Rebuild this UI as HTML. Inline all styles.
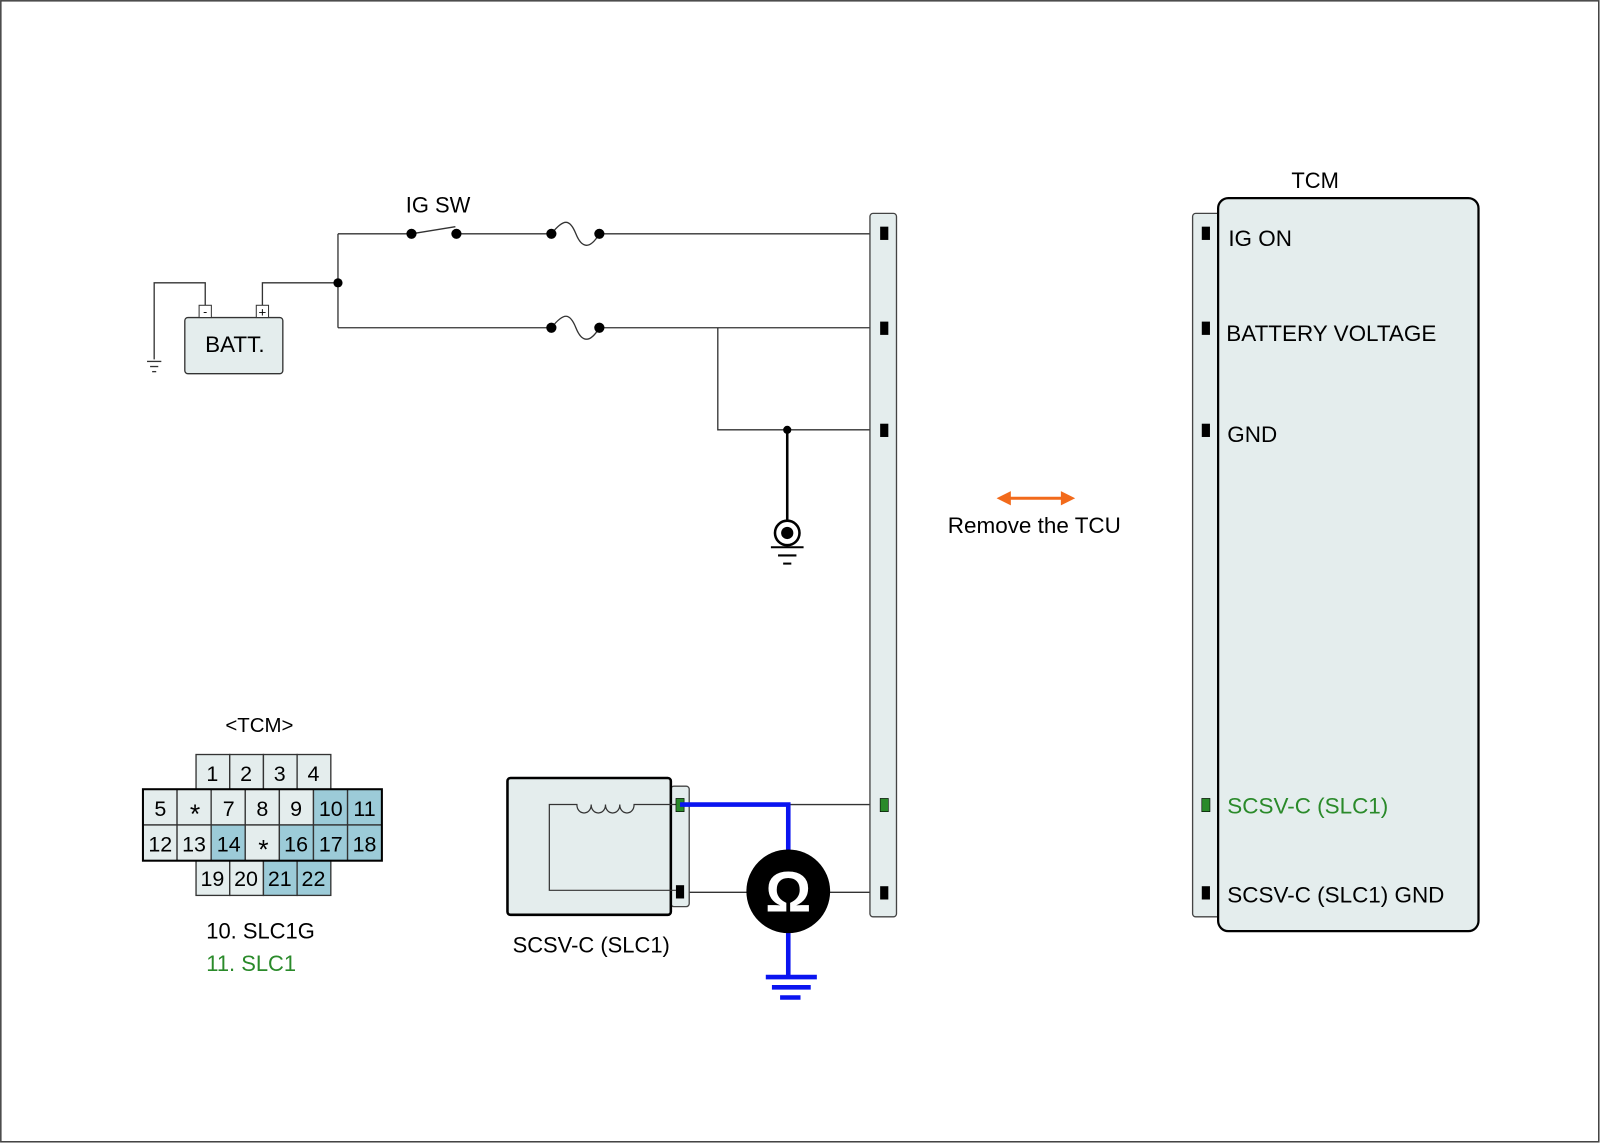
<!DOCTYPE html>
<html><head><meta charset="utf-8"><style>
html,body{margin:0;padding:0;background:#fff;}
svg{display:block;}
text{font-family:"Liberation Sans",Arial,sans-serif;}
</style></head><body>
<svg width="1600" height="1143" viewBox="0 0 1567 1119.5" preserveAspectRatio="none" xmlns="http://www.w3.org/2000/svg">
<rect x="0.8" y="0.8" width="1565" height="1117.5" fill="#fff" stroke="#444" stroke-width="1.5"/>
<g stroke="#333" stroke-width="1.3" fill="none">
<polyline points="201,299 201,277 151,277 151,352"/>
<polyline points="257,299 257,277 331,277"/>
<line x1="331" y1="229" x2="331" y2="321"/>
<line x1="331" y1="229" x2="403" y2="229"/>
<line x1="403" y1="229" x2="446" y2="222"/>
<line x1="447" y1="229" x2="540" y2="229"/>
<path d="M540,229 C552,214 558,214 564,229 C570,244 578,244 587,229"/>
<line x1="587" y1="229" x2="864" y2="229"/>
<line x1="331" y1="321" x2="540" y2="321"/>
<path d="M540,321 C552,306 558,306 564,321 C570,336 578,336 587,321"/>
<line x1="587" y1="321" x2="864" y2="321"/>
<polyline points="703,321 703,421 864,421"/>
<line x1="772" y1="788" x2="864" y2="788"/>
<line x1="675" y1="874" x2="735" y2="874"/>
<line x1="810" y1="874" x2="864" y2="874"/>
</g>
<g stroke="#333" stroke-width="1.3">
<line x1="144" y1="354" x2="158" y2="354"/><line x1="147" y1="359" x2="155" y2="359"/><line x1="149" y1="364" x2="153" y2="364"/>
</g>
<circle cx="331" cy="277" r="4.5" fill="#000"/>
<circle cx="403" cy="229" r="5" fill="#000"/><circle cx="447" cy="229" r="5" fill="#000"/>
<circle cx="540" cy="229" r="5" fill="#000"/><circle cx="587" cy="229" r="5" fill="#000"/>
<circle cx="540" cy="321" r="5" fill="#000"/><circle cx="587" cy="321" r="5" fill="#000"/>
<text x="429" y="208" font-size="21.5" text-anchor="middle">IG SW</text>
<rect x="181" y="311" width="96" height="55" rx="3" fill="#e4eded" stroke="#333" stroke-width="1.3"/>
<rect x="195" y="299" width="12" height="12" fill="#fff" stroke="#333" stroke-width="1"/>
<rect x="251" y="299" width="12" height="12" fill="#fff" stroke="#333" stroke-width="1"/>
<text x="201" y="309" font-size="12" text-anchor="middle">-</text>
<text x="257" y="310" font-size="13" text-anchor="middle">+</text>
<text x="230" y="345" font-size="22" text-anchor="middle">BATT.</text>
<circle cx="771" cy="421" r="4" fill="#000"/>
<line x1="771" y1="421" x2="771" y2="510" stroke="#000" stroke-width="2.5"/>
<circle cx="771" cy="522" r="12" fill="#fff" stroke="#000" stroke-width="2.5"/>
<circle cx="771" cy="522" r="6" fill="#000"/>
<g stroke="#000" stroke-width="2"><line x1="755" y1="536" x2="787" y2="536"/><line x1="762" y1="544" x2="780" y2="544"/><line x1="767" y1="552" x2="775" y2="552"/></g>
<rect x="852" y="209" width="26" height="689" rx="3" fill="#e4eded" stroke="#444" stroke-width="1.3"/>
<g fill="#000"><rect x="862" y="222" width="8" height="13"/><rect x="862" y="315" width="8" height="13"/><rect x="862" y="415" width="8" height="13"/><rect x="862" y="868" width="8" height="13"/></g>
<rect x="862" y="782" width="8" height="13" fill="#2a8a2a" stroke="#000" stroke-width="0.6"/>
<rect x="657" y="770" width="18" height="118" rx="3" fill="#e4eded" stroke="#444" stroke-width="1.3"/>
<rect x="497" y="762" width="160" height="134" rx="3" fill="#e4eded" stroke="#000" stroke-width="2.5"/>
<path d="M662,788 L621,788 C621,799 607,799 607,788 C607,799 593,799 593,788 C593,799 579,799 579,788 C579,799 565,799 565,788 L538,788 L538,872 L662,872" fill="none" stroke="#333" stroke-width="1.2"/>
<rect x="662" y="782" width="8" height="13" fill="#2a8a2a" stroke="#000" stroke-width="0.6"/>
<rect x="662" y="867" width="8" height="13" fill="#000"/>
<text x="502" y="933" font-size="21.5">SCSV-C (SLC1)</text>
<g stroke="#0a14f0" stroke-width="4.5" fill="none">
<polyline points="666,788 772,788 772,845"/>
<line x1="772" y1="905" x2="772" y2="957"/>
<line x1="750" y1="957" x2="800" y2="957"/><line x1="756" y1="967" x2="794" y2="967"/><line x1="764" y1="977" x2="784" y2="977"/>
</g>
<circle cx="772" cy="873" r="41" fill="#000"/>
<text x="772" y="893" font-size="56" font-weight="bold" fill="#fff" text-anchor="middle" style='font-family:"Liberation Sans",sans-serif'>Ω</text>
<line x1="986" y1="488" x2="1042" y2="488" stroke="#f26a1b" stroke-width="3"/>
<polygon points="976,488 990,481 990,495" fill="#f26a1b"/>
<polygon points="1053,488 1039,481 1039,495" fill="#f26a1b"/>
<text x="1013" y="522" font-size="22" text-anchor="middle">Remove the TCU</text>
<text x="1288" y="184" font-size="21.5" text-anchor="middle">TCM</text>
<rect x="1168" y="209" width="30" height="689" rx="3" fill="#e4eded" stroke="#444" stroke-width="1.3"/>
<rect x="1193" y="194" width="255" height="718" rx="10" fill="#e4eded" stroke="#000" stroke-width="2.2"/>
<g fill="#000"><rect x="1177" y="222" width="8" height="13"/><rect x="1177" y="315" width="8" height="13"/><rect x="1177" y="415" width="8" height="13"/><rect x="1177" y="868" width="8" height="13"/></g>
<rect x="1177" y="782" width="8" height="13" fill="#2a8a2a" stroke="#000" stroke-width="0.6"/>
<g font-size="22"><text x="1203" y="241">IG ON</text><text x="1201" y="334">BATTERY VOLTAGE</text><text x="1202" y="433">GND</text>
<text x="1202" y="797" fill="#2a8a2a">SCSV-C (SLC1)</text><text x="1202" y="884">SCSV-C (SLC1) GND</text></g>
<text x="254" y="717" font-size="20" text-anchor="middle">&lt;TCM&gt;</text>
<g stroke="#333" stroke-width="1.3">
<rect x="192" y="739" width="33" height="34" fill="#e4eded"/><rect x="225" y="739" width="33" height="34" fill="#e4eded"/><rect x="258" y="739" width="33" height="34" fill="#e4eded"/><rect x="291" y="739" width="33" height="34" fill="#e4eded"/>
<rect x="140" y="773" width="33.4" height="35" fill="#e4eded"/><rect x="173.4" y="773" width="33.4" height="35" fill="#e4eded"/><rect x="206.8" y="773" width="33.4" height="35" fill="#e4eded"/><rect x="240.2" y="773" width="33.4" height="35" fill="#e4eded"/><rect x="273.6" y="773" width="33.4" height="35" fill="#e4eded"/><rect x="307" y="773" width="33.4" height="35" fill="#9ccbd8"/><rect x="340.4" y="773" width="33.6" height="35" fill="#9ccbd8"/>
<rect x="140" y="808" width="33.4" height="35" fill="#e4eded"/><rect x="173.4" y="808" width="33.4" height="35" fill="#e4eded"/><rect x="206.8" y="808" width="33.4" height="35" fill="#9ccbd8"/><rect x="240.2" y="808" width="33.4" height="35" fill="#e4eded"/><rect x="273.6" y="808" width="33.4" height="35" fill="#9ccbd8"/><rect x="307" y="808" width="33.4" height="35" fill="#9ccbd8"/><rect x="340.4" y="808" width="33.6" height="35" fill="#9ccbd8"/>
<rect x="192" y="843" width="33" height="34" fill="#e4eded"/><rect x="225" y="843" width="33" height="34" fill="#e4eded"/><rect x="258" y="843" width="33" height="34" fill="#9ccbd8"/><rect x="291" y="843" width="33" height="34" fill="#9ccbd8"/>
</g>
<rect x="140" y="773" width="234" height="70" fill="none" stroke="#000" stroke-width="2"/>
<g font-size="21" text-anchor="middle" fill="#000">
<text x="208" y="765">1</text><text x="241" y="765">2</text><text x="274" y="765">3</text><text x="307" y="765">4</text>
<text x="157" y="799">5</text><text x="191" y="806" font-size="26">*</text><text x="224" y="799">7</text><text x="257" y="799">8</text><text x="290" y="799">9</text><text x="324" y="799">10</text><text x="357" y="799">11</text>
<text x="157" y="834">12</text><text x="190" y="834">13</text><text x="224" y="834">14</text><text x="258" y="841" font-size="26">*</text><text x="290" y="834">16</text><text x="324" y="834">17</text><text x="357" y="834">18</text>
<text x="208" y="868">19</text><text x="241" y="868">20</text><text x="274" y="868">21</text><text x="307" y="868">22</text>
</g>
<text x="202" y="919" font-size="21.5">10. SLC1G</text>
<text x="202" y="951" font-size="21.5" fill="#2a8a2a">11. SLC1</text>
</svg>
</body></html>
